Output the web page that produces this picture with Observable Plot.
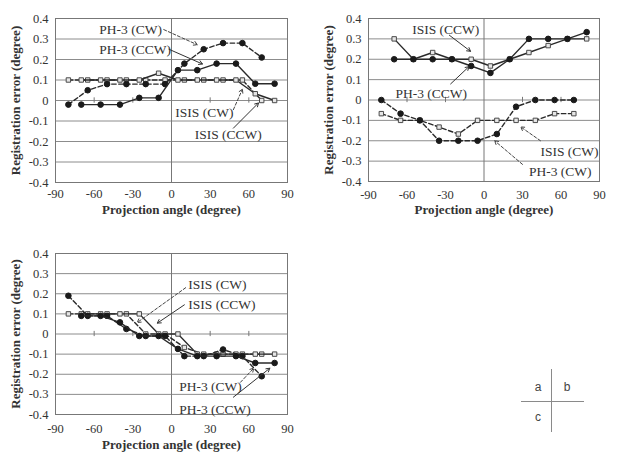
<!DOCTYPE html>
<html>
<head>
<meta charset="utf-8">
<script src="https://cdn.jsdelivr.net/npm/d3@7"></script>
<script src="https://cdn.jsdelivr.net/npm/@observablehq/plot@0.6"></script>
<style>
  body { margin: 0; background: #fff; }
  #fig { position: relative; width: 618px; height: 460px; overflow: hidden; }
  .panel { position: absolute; }
  .key { position: absolute; font-family: "Liberation Sans", Arial, sans-serif; font-size: 12px; color: #444; }
  .key .line { position: absolute; background: #8a8a8a; }
  .key .lbl { position: absolute; transform: translate(-50%, -50%); }
</style>
</head>
<body>
<div id="fig"></div>
<script>
// Projection angles: CW and CCW scans are sampled at interleaved 15° steps
const anglesCW  = [-80, -65, -50, -35, -20, -5, 10, 25, 40, 55, 70];
const anglesCCW = [-70, -55, -40, -25, -10, 5, 20, 35, 50, 65, 80];

const xTicks = [-90, -60, -30, 0, 30, 60, 90];
const yTicks = [-0.4, -0.3, -0.2, -0.1, 0, 0.1, 0.2, 0.3, 0.4];
const zeroLineTicks = [-60, -30, 30, 60, 90];

// Panel a
const aPh3CW   = [-0.02, 0.05, 0.08, 0.08, 0.08, 0.08, 0.18, 0.25, 0.28, 0.28, 0.21];
const aPh3CCW  = [-0.02, -0.02, -0.02, 0.013, 0.013, 0.148, 0.148, 0.18, 0.18, 0.082, 0.082];
const aIsisCW  = [0.1, 0.1, 0.1, 0.1, 0.1, 0.1, 0.1, 0.1, 0.1, 0.1, 0];
const aIsisCCW = [0.1, 0.1, 0.1, 0.1, 0.133, 0.1, 0.1, 0.1, 0.1, 0.033, 0];

// Panel b
const bPh3CW   = [0, -0.067, -0.1, -0.2, -0.2, -0.2, -0.167, -0.033, 0, 0, 0];
const bPh3CCW  = [0.2, 0.2, 0.2, 0.2, 0.167, 0.133, 0.2, 0.3, 0.3, 0.3, 0.333];
const bIsisCW  = [-0.067, -0.1, -0.1, -0.133, -0.167, -0.1, -0.1, -0.1, -0.1, -0.067, -0.067];
const bIsisCCW = [0.3, 0.2, 0.233, 0.2, 0.2, 0.167, 0.2, 0.233, 0.267, 0.3, 0.3];

// Panel c
const cPh3CW   = [0.19, 0.09, 0.09, 0.025, -0.01, -0.01, -0.11, -0.11, -0.077, -0.11, -0.21];
const cPh3CCW  = [0.09, 0.09, 0.058, -0.01, -0.01, -0.074, -0.11, -0.11, -0.11, -0.144, -0.144];
const cIsisCW  = [0.1, 0.1, 0.1, 0.1, 0, 0, -0.067, -0.1, -0.1, -0.1, -0.1];
const cIsisCCW = [0.1, 0.1, 0.1, 0.1, 0, 0, -0.1, -0.1, -0.1, -0.1, -0.1];

// Callout labels with their leader arrows (data coordinates)
const aNotes = [
  {label: "PH-3 (CW)",  x: -56, y: 0.346, x1: -6,  y1: 0.346, x2: 20,   y2: 0.272, dashed: true},
  {label: "PH-3 (CCW)", x: -56, y: 0.25,  x1: -2,  y1: 0.25,  x2: 24,   y2: 0.178, dashed: false},
  {label: "ISIS (CW)",  x: 3,   y: -0.058, x1: 48, y1: -0.045, x2: 55,  y2: 0.055, dashed: true},
  {label: "ISIS (CCW)", x: 18,  y: -0.167, x1: 48, y1: -0.135, x2: 67.5, y2: -0.012, dashed: false}
];
const bNotes = [
  {label: "ISIS (CCW)", x: -56, y: 0.346, x1: -27, y1: 0.318, x2: -10.5, y2: 0.239, dashed: false},
  {label: "PH-3 (CCW)", x: -69, y: 0.03,  x1: -26, y1: 0.079, x2: -11.7, y2: 0.164, dashed: false},
  {label: "ISIS (CW)",  x: 44,  y: -0.255, x1: 44, y1: -0.2,  x2: 28.6, y2: -0.132, dashed: true},
  {label: "PH-3 (CW)",  x: 35,  y: -0.354, x1: 30, y1: -0.316, x2: 8.3, y2: -0.2, dashed: true}
];
const cNotes = [
  {label: "ISIS (CW)",  x: 13, y: 0.247, x1: 11, y1: 0.23,  x2: -26.6, y2: 0.057, dashed: true},
  {label: "ISIS (CCW)", x: 13, y: 0.145, x1: 10, y1: 0.145, x2: -11,   y2: 0.054, dashed: false},
  {label: "PH-3 (CW)",  x: 6,  y: -0.26, x1: 53.5, y1: -0.24, x2: 63.8, y2: -0.17, dashed: true},
  {label: "PH-3 (CCW)", x: 6,  y: -0.375, x1: 48, y1: -0.314, x2: 76.3, y2: -0.17, dashed: false}
];

const serif = '"Liberation Serif", "Times New Roman", Times, serif';
const ink = "#2a2a2a";
const gridColor = "#8c8c8c";

function table(angles, values) {
  return angles.map((a, i) => ({angle: a, value: values[i]}));
}

function panel({ph3CW, ph3CCW, isisCW, isisCCW, notes, width, height, margins, tickPad, titleGap}) {
  const series = [
    {data: table(anglesCW, isisCW),   dashed: true,  symbol: "square"},
    {data: table(anglesCCW, isisCCW), dashed: false, symbol: "square"},
    {data: table(anglesCW, ph3CW),    dashed: true,  symbol: "circle"},
    {data: table(anglesCCW, ph3CCW),  dashed: false, symbol: "circle"}
  ];
  const seriesMarks = series.flatMap(s => [
    Plot.line(s.data, {x: "angle", y: "value", stroke: ink, strokeWidth: 1.4,
      strokeDasharray: s.dashed ? "4.5,2.5" : null}),
    Plot.dot(s.data, {x: "angle", y: "value", symbol: s.symbol,
      r: s.symbol === "square" ? 2.5 : 2.8,
      fill: s.symbol === "square" ? "#e6e6e6" : "#1a1a1a",
      stroke: s.symbol === "square" ? "#4a4a4a" : "#1a1a1a", strokeWidth: 1})
  ]);
  return Plot.plot({
    width, height,
    marginLeft: margins[0], marginRight: margins[1], marginTop: margins[2], marginBottom: margins[3],
    x: {domain: [-90, 90], label: null},
    y: {domain: [-0.4, 0.4], label: null},
    style: {fontFamily: serif, fontSize: "12.5px", color: "#333", background: "transparent", overflow: "visible"},
    marks: [
      Plot.ruleY(yTicks.slice(1, -1), {stroke: gridColor, strokeWidth: 1}),
      Plot.ruleX([0], {stroke: "#777", strokeWidth: 1}),
      Plot.ruleX(zeroLineTicks, {x: d => d, y1: -0.013, y2: 0.013, stroke: "#777"}),
      Plot.frame({stroke: "#777"}),
      Plot.axisX(xTicks, {tickSize: 0, tickPadding: tickPad[0], tickFormat: d => String(d)}),
      Plot.axisY(yTicks, {tickSize: 0, tickPadding: tickPad[1],
        tickFormat: d => (Math.abs(d) < 1e-9 ? "0" : d.toFixed(1))}),
      Plot.text(["Projection angle (degree)"], {frameAnchor: "bottom", dy: titleGap,
        fontWeight: "bold", fontSize: 13, fill: "#333"}),
      Plot.text(["Registration error (degree)"], {frameAnchor: "left", dx: -40, rotate: -90,
        textAnchor: "middle", fontWeight: "bold", fontSize: 13, fill: "#333"}),
      ...seriesMarks,
      Plot.arrow(notes.filter(n => n.dashed), {x1: "x1", y1: "y1", x2: "x2", y2: "y2",
        stroke: "#444", strokeWidth: 1, strokeDasharray: "3,2", headLength: 6, bend: false}),
      Plot.arrow(notes.filter(n => !n.dashed), {x1: "x1", y1: "y1", x2: "x2", y2: "y2",
        stroke: "#333", strokeWidth: 1, headLength: 6, bend: false}),
      Plot.text(notes, {x: "x", y: "y", text: "label", textAnchor: "start", fontSize: 13.5,
        fill: "#333"})
    ]
  });
}

const fig = document.getElementById("fig");
function place(svg, left, top) {
  const div = document.createElement("div");
  div.className = "panel";
  div.style.left = left + "px";
  div.style.top = top + "px";
  div.appendChild(svg);
  fig.appendChild(div);
}

place(panel({ph3CW: aPh3CW, ph3CCW: aPh3CCW, isisCW: aIsisCW, isisCCW: aIsisCCW, notes: aNotes,
  width: 300, height: 230, margins: [55, 13, 18, 48], tickPad: [7, 7], titleGap: 31}), 0, 0);
place(panel({ph3CW: bPh3CW, ph3CCW: bPh3CCW, isisCW: bIsisCW, isisCCW: bIsisCCW, notes: bNotes,
  width: 300, height: 230, margins: [55, 14, 18, 49], tickPad: [9, 7], titleGap: 32}), 313, 0);
place(panel({ph3CW: cPh3CW, ph3CCW: cPh3CCW, isisCW: cIsisCW, isisCCW: cIsisCCW, notes: cNotes,
  width: 300, height: 225, margins: [55, 13, 18, 46], tickPad: [10, 7], titleGap: 34}), 0, 235);

// Panel key: a | b over c
const key = document.createElement("div");
key.className = "key";
key.style.left = "0px"; key.style.top = "0px";
key.innerHTML =
  '<div class="line" style="left:551px;top:369px;width:1px;height:63px"></div>' +
  '<div class="line" style="left:521px;top:401px;width:63px;height:1px"></div>' +
  '<div class="lbl" style="left:538px;top:387px">a</div>' +
  '<div class="lbl" style="left:567px;top:387px">b</div>' +
  '<div class="lbl" style="left:538px;top:417px">c</div>';
fig.appendChild(key);
</script>
</body>
</html>
